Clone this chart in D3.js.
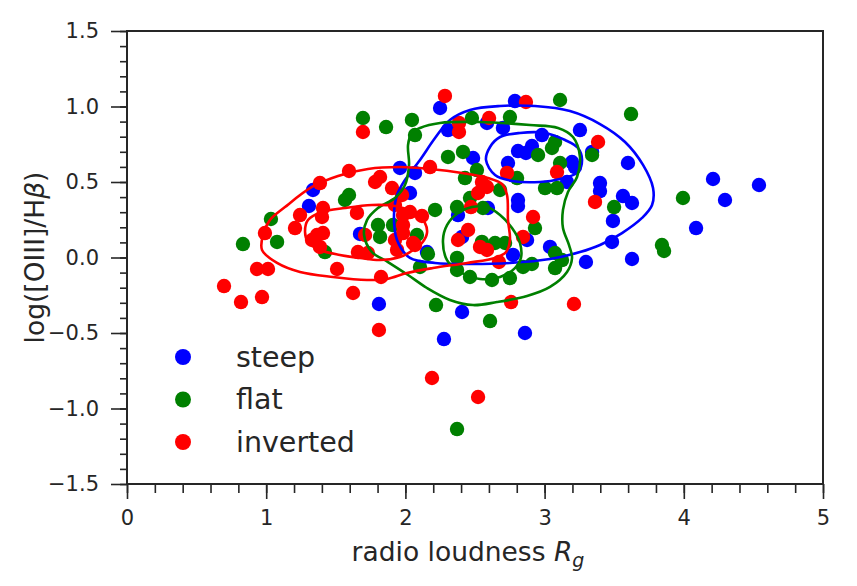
<!DOCTYPE html>
<html><head><meta charset="utf-8">
<script src="https://cdn.jsdelivr.net/npm/d3@7"></script>
<style>body{margin:0;background:#fff}svg{display:block}text{font-family:"DejaVu Sans",sans-serif;fill:#262626}</style>
</head><body>
<script>
const steepX=[2.249,2.787,2.306,2.586,2.701,3.254,2.981,2.486,2.809,2.866,2.909,2.737,3.197,3.218,3.341,1.961,2.069,3.161,3.398,3.398,2.033,2.809,2.809,2.593,2.378,2.874,3.039,2.773,2.407,2.155,3.599,3.563,3.628,3.491,3.484,3.628,4.210,4.296,4.540,4.088,3.297,1.336,1.307,1.674,1.810,2.407,2.277,2.859];
const steepY=[0.990,1.036,0.844,0.891,0.858,0.844,0.811,0.659,0.705,0.692,0.738,0.626,0.632,0.599,0.699,0.593,0.560,0.500,0.493,0.440,0.427,0.381,0.341,0.328,0.281,0.116,0.070,0.017,0.136,0.036,0.626,0.407,0.361,0.242,0.103,-0.010,0.520,0.381,0.480,0.195,-0.030,0.447,0.341,0.156,-0.308,-0.361,-0.540,-0.500];
const flatX=[3.111,2.047,2.069,2.478,2.751,2.306,2.414,3.075,3.053,2.953,3.111,3.341,2.802,3.003,3.089,2.514,2.428,2.680,2.371,2.557,2.213,2.464,2.931,2.083,3.075,2.644,2.716,2.550,2.371,2.162,1.695,1.861,1.595,1.566,1.034,0.833,1.078,1.803,1.818,1.422,1.911,2.105,2.371,2.464,2.622,2.751,2.845,2.909,3.125,3.075,2.220,2.608,2.371,3.621,3.499,3.994,3.843,3.858];
const flatY=[1.043,0.911,0.811,0.924,0.930,0.666,0.699,0.765,0.725,0.679,0.626,0.679,0.526,0.460,0.460,0.579,0.526,0.447,0.334,0.328,0.315,0.394,0.195,0.149,0.030,0.096,0.096,0.103,-0.003,0.023,0.924,0.864,0.414,0.381,0.255,0.089,0.103,0.215,0.136,0.036,0.215,-0.063,-0.083,-0.129,-0.149,-0.136,-0.063,-0.043,-0.017,-0.070,-0.315,-0.421,-1.136,0.950,0.334,0.394,0.083,0.043];
const invX=[2.284,2.866,2.601,2.385,2.385,3.384,2.177,2.730,3.089,2.550,2.586,2.522,3.362,2.917,2.471,1.976,1.983,2.033,2.119,1.983,2.450,2.378,2.845,2.536,2.586,2.055,1.695,1.595,1.386,1.818,1.782,1.904,1.408,1.401,1.243,1.207,0.991,1.652,1.365,1.408,1.329,1.386,1.925,1.710,1.659,1.731,1.925,1.940,0.934,1.013,0.697,0.819,0.970,1.509,1.624,1.825,1.810,2.672,2.759,3.211,2.191,2.522,2.069,1.983];
const invY=[1.070,1.030,0.924,0.891,0.831,0.765,0.599,0.560,0.566,0.500,0.467,0.427,0.368,0.268,0.334,0.414,0.281,0.301,0.275,0.215,0.182,0.116,0.136,0.070,0.050,0.096,0.831,0.573,0.493,0.533,0.500,0.460,0.328,0.268,0.281,0.195,0.162,0.295,0.149,0.162,0.116,0.070,0.348,0.149,0.036,0.030,0.116,0.050,-0.076,-0.076,-0.189,-0.295,-0.262,-0.076,-0.235,-0.129,-0.480,-0.030,-0.295,-0.308,-0.798,-0.924,0.083,0.162];

// KDE contour outlines (data units: [x, y])
const steepOuter=[[1.940,0.116],[1.918,0.281],[1.940,0.414],[1.997,0.513],[2.105,0.646],[2.213,0.791],[2.320,0.911],[2.464,0.977],[2.680,1.003],[2.931,1.003],[3.182,0.970],[3.398,0.884],[3.578,0.765],[3.707,0.613],[3.779,0.460],[3.772,0.348],[3.700,0.262],[3.556,0.162],[3.398,0.083],[3.254,0.036],[3.039,-0.010],[2.751,-0.036],[2.464,-0.043],[2.213,-0.036],[2.033,-0.003]];
const steepInner=[[2.579,0.646],[2.608,0.732],[2.680,0.798],[2.823,0.825],[3.003,0.825],[3.147,0.778],[3.240,0.725],[3.269,0.646],[3.240,0.566],[3.111,0.520],[2.967,0.500],[2.766,0.507],[2.644,0.546]];
const flatOuter=[[2.105,0.858],[2.249,0.891],[2.536,0.897],[2.895,0.877],[3.096,0.858],[3.204,0.798],[3.254,0.666],[3.233,0.533],[3.168,0.434],[3.132,0.315],[3.132,0.195],[3.175,0.083],[3.197,-0.003],[3.161,-0.096],[3.039,-0.195],[2.874,-0.255],[2.658,-0.295],[2.486,-0.315],[2.320,-0.281],[2.155,-0.202],[2.019,-0.116],[1.875,-0.030],[1.760,0.036],[1.703,0.149],[1.724,0.248],[1.803,0.328],[1.925,0.394],[1.997,0.480],[2.026,0.613],[2.019,0.745],[2.047,0.825]];
const flatInner=[[2.270,0.116],[2.299,0.215],[2.378,0.295],[2.478,0.334],[2.586,0.334],[2.680,0.281],[2.766,0.195],[2.823,0.096],[2.830,-0.003],[2.787,-0.070],[2.680,-0.129],[2.536,-0.142],[2.392,-0.096],[2.299,-0.017]];
const invOuter=[[0.970,0.050],[0.977,0.149],[1.027,0.248],[1.135,0.334],[1.329,0.467],[1.516,0.540],[1.731,0.586],[1.961,0.599],[2.177,0.586],[2.407,0.560],[2.593,0.527],[2.694,0.487],[2.730,0.414],[2.737,0.248],[2.751,0.116],[2.723,0.036],[2.644,-0.003],[2.443,-0.036],[2.198,-0.070],[2.011,-0.103],[1.868,-0.142],[1.724,-0.149],[1.480,-0.129],[1.243,-0.096],[1.078,-0.036]];
const invInner=[[1.279,0.169],[1.300,0.248],[1.401,0.301],[1.566,0.328],[1.760,0.348],[1.925,0.341],[2.069,0.295],[2.141,0.228],[2.155,0.162],[2.119,0.096],[2.033,0.036],[1.961,0.003],[1.818,-0.017],[1.674,-0.003],[1.530,0.017],[1.386,0.050],[1.300,0.103]];

const xTicks=[0,1,2,3,4,5];
const yTicks=[-1.5,-1.0,-0.5,0.0,0.5,1.0,1.5];
const seriesNames=["steep","flat","inverted"];
const seriesColors=["#0000ff","#008000","#ff0000"];

const W=857,H=586;
const L=127,T=31,R=823,B=484;
const svg=d3.select("body").append("svg").attr("width",W).attr("height",H);
const x=d3.scaleLinear().domain([0,5]).range([L,R]);
const y=d3.scaleLinear().domain([-1.5,1.5]).range([B,T]);

const series=[[steepX,steepY],[flatX,flatY],[invX,invY]];
const ptsG=svg.append("g");
series.forEach((s,i)=>{
  ptsG.append("g").selectAll("circle").data(s[0].map((v,j)=>[v,s[1][j]])).join("circle")
    .attr("cx",d=>x(d[0])).attr("cy",d=>y(d[1])).attr("r",7.2).attr("fill",seriesColors[i]);
});

const line=d3.line().x(d=>x(d[0])).y(d=>y(d[1])).curve(d3.curveCatmullRomClosed.alpha(0.5));
const contours=[[steepOuter,steepInner],[flatOuter,flatInner],[invOuter,invInner]];
const cG=svg.append("g");
contours.forEach((c,i)=>{
  c.forEach(poly=>{
    cG.append("path").attr("d",line(poly)).attr("fill","none").attr("stroke",seriesColors[i]).attr("stroke-width",2.6);
  });
});

// axes
const ax=svg.append("g").attr("transform",`translate(0,${B})`)
  .call(d3.axisBottom(x).tickValues(xTicks).tickFormat(d3.format("d")).tickSize(15).tickPadding(11));
const axm=svg.append("g").attr("transform",`translate(0,${B})`)
  .call(d3.axisBottom(x).tickValues(d3.range(0,5.001,0.2)).tickFormat("").tickSize(9));
const ay=svg.append("g").attr("transform",`translate(${L},0)`)
  .call(d3.axisLeft(y).tickValues(yTicks).tickFormat(d3.format(".1f")).tickSize(16).tickPadding(12));
const aym=svg.append("g").attr("transform",`translate(${L},0)`)
  .call(d3.axisLeft(y).tickValues(d3.range(-1.5,1.501,0.1)).tickFormat("").tickSize(7));
[ax,axm,ay,aym].forEach(g=>{
  g.attr("font-size",null).attr("font-family",null);
  g.select(".domain").remove();
  g.selectAll(".tick line").attr("stroke","#262626").attr("stroke-width",1.6);
  g.selectAll("text").style("font-size","21px").attr("fill","#262626");
});
svg.append("rect").attr("x",L).attr("y",T).attr("width",R-L).attr("height",B-T)
  .attr("fill","none").attr("stroke","#262626").attr("stroke-width",2);

// axis labels
const xl=svg.append("text").attr("x",468).attr("y",561).attr("text-anchor","middle").style("font-size","26.5px");
xl.append("tspan").text("radio loudness ");
xl.append("tspan").attr("font-style","italic").text("R");
xl.append("tspan").attr("font-style","italic").attr("dy",6).style("font-size","19px").text("g");
const yl=svg.append("text").attr("transform",`translate(44,${(T+B)/2}) rotate(-90)`).attr("text-anchor","middle").style("font-size","26.5px");
yl.append("tspan").text("log([OIII]/H");
yl.append("tspan").attr("font-style","italic").text("β");
yl.append("tspan").text(")");

// legend
const lg=svg.append("g");
seriesNames.forEach((n,i)=>{
  const cy=357+i*42.5;
  lg.append("circle").attr("cx",183).attr("cy",cy).attr("r",8).attr("fill",seriesColors[i]);
  lg.append("text").attr("x",236).attr("y",cy).attr("dy","0.35em").style("font-size","28.5px").text(n);
});
</script>
</body></html>
